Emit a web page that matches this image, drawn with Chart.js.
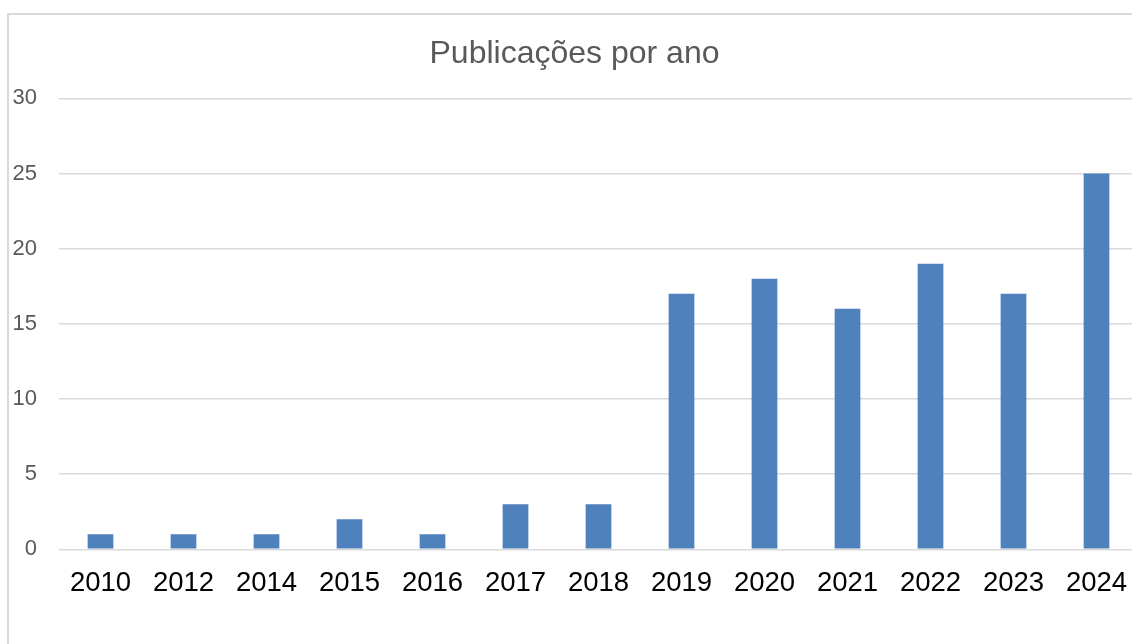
<!DOCTYPE html>
<html>
<head>
<meta charset="utf-8">
<script src="https://cdn.jsdelivr.net/npm/chart.js@4/dist/chart.umd.min.js"></script>
<style>
  html, body { margin: 0; padding: 0; background: #ffffff; overflow: hidden; width: 1132px; height: 644px; }
  #frame { position: absolute; left: 7px; top: 12.5px; width: 1300px; height: 800px; border: 2px solid #d9d9d9; box-sizing: border-box; }
  #wrap { position: absolute; left: 0; top: 0; width: 1160px; height: 644px; }
</style>
</head>
<body>
<div id="frame"></div>
<div id="wrap"><canvas id="c"></canvas></div>
<script>
const titleText = 'Publicações por ano';
const years = ['2010','2012','2014','2015','2016','2017','2018','2019','2020','2021','2022','2023','2024'];
const publications = [1, 1, 1, 2, 1, 3, 3, 17, 18, 16, 19, 17, 25];
const yTicks = [0, 5, 10, 15, 20, 25, 30];

const FONT = "'Liberation Sans', Arial, sans-serif";

new Chart(document.getElementById('c'), {
  type: 'bar',
  data: {
    labels: years,
    datasets: [{
      label: 'Publicações',
      data: publications,
      backgroundColor: '#4f81bd',
      borderWidth: 0,
      barPercentage: 0.62,
      categoryPercentage: 0.5
    }]
  },
  options: {
    responsive: true,
    maintainAspectRatio: false,
    animation: false,
    layout: { padding: { left: 11, right: 22, top: 0, bottom: 0 } },
    plugins: {
      legend: { display: false },
      tooltip: { enabled: false },
      title: {
        display: true,
        text: titleText,
        color: '#595959',
        font: { family: FONT, size: 32, weight: 'normal', lineHeight: 1.2 },
        padding: { top: 34.5, bottom: 25.4 }
      }
    },
    scales: {
      x: {
        grid: { display: false, drawTicks: false },
        border: { display: false },
        ticks: {
          color: '#000000',
          font: { family: FONT, size: 27.5 },
          padding: 18,
          maxRotation: 0,
          autoSkip: false
        },
        afterFit: (s) => { s.height = 644 - 549.3; }
      },
      y: {
        min: 0,
        max: 30,
        afterBuildTicks: (s) => { s.ticks = yTicks.map(v => ({ value: v })); },
        grid: { color: '#d9d9d9', lineWidth: 1.5, drawTicks: false },
        border: { display: false },
        ticks: {
          color: '#595959',
          font: { family: FONT, size: 22 },
          padding: 22
        },
        afterFit: (s) => { s.width = 48; }
      }
    }
  }
});
</script>
</body>
</html>
